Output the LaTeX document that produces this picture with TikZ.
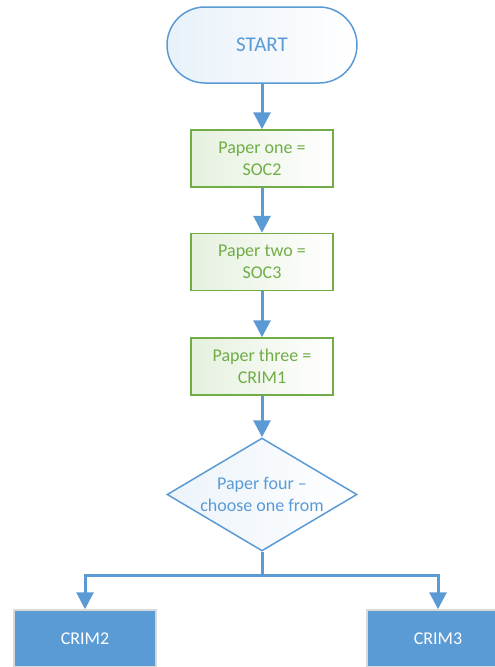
\documentclass[tikz,border=0pt]{standalone}
\usepackage{fontspec}
\setmainfont{Carlito}
\usetikzlibrary{shapes.geometric, arrows.meta}
\definecolor{flowblue}{HTML}{5B9BD5}
\definecolor{flowgreen}{HTML}{70AD47}
\tikzset{>={Triangle[length=17pt,width=17pt]}}
\tikzset{
  terminal/.style={draw=flowblue, line width=1.5pt, rounded corners=38pt, minimum width=190pt, minimum height=76pt, left color=flowblue!14, right color=white, text=flowblue, font=\fontsize{21}{25}\selectfont},
  paperbox/.style={draw=flowgreen, line width=1.5pt, minimum width=142pt, minimum height=57pt, left color=flowgreen!18, right color=white, text=flowgreen, align=center, font=\fontsize{18}{22}\selectfont},
  choice/.style={diamond, draw=flowblue, line width=1.5pt, aspect=1.68, inner xsep=-3pt, inner ysep=0pt, minimum width=190pt, minimum height=113pt, left color=flowblue!12, right color=white, text=flowblue, align=center, font=\fontsize{18}{22}\selectfont},
  crimbox/.style={draw=gray!30, line width=1.5pt, fill=flowblue, minimum width=142pt, minimum height=57pt, text=white, font=\fontsize{18}{22}\selectfont},
  flow/.style={draw=flowblue, line width=3pt}
}
\begin{document}
\begin{tikzpicture}[x=1pt, y=-1pt]
\useasboundingbox (0,0) rectangle (495,667);
\clip (0,0) rectangle (495,667);
\node[terminal] (start) at (262,45) {START};
\node[paperbox] (one) at (262,158.5) {Paper one =\\SOC2};
\node[paperbox] (two) at (262,262) {Paper two =\\SOC3};
\node[paperbox] (three) at (262,366.5) {Paper three =\\CRIM1};
\node[choice] (four) at (262,494.5) {Paper four --\\choose one from};
\coordinate (split) at (262,575);
\node[crimbox] (crimtwo) at (85,638.5) {CRIM2};
\node[crimbox] (crimthree) at (438,638.5) {CRIM3};
\draw[flow, ->] (start) -- (one);
\draw[flow, ->] (one) -- (two);
\draw[flow, ->] (two) -- (three);
\draw[flow, ->] (three) -- (four);
\draw[flow] (four) -- (split);
\draw[flow, ->] (split) -| (crimtwo);
\draw[flow, ->] (split) -| (crimthree);
\end{tikzpicture}
\end{document}
